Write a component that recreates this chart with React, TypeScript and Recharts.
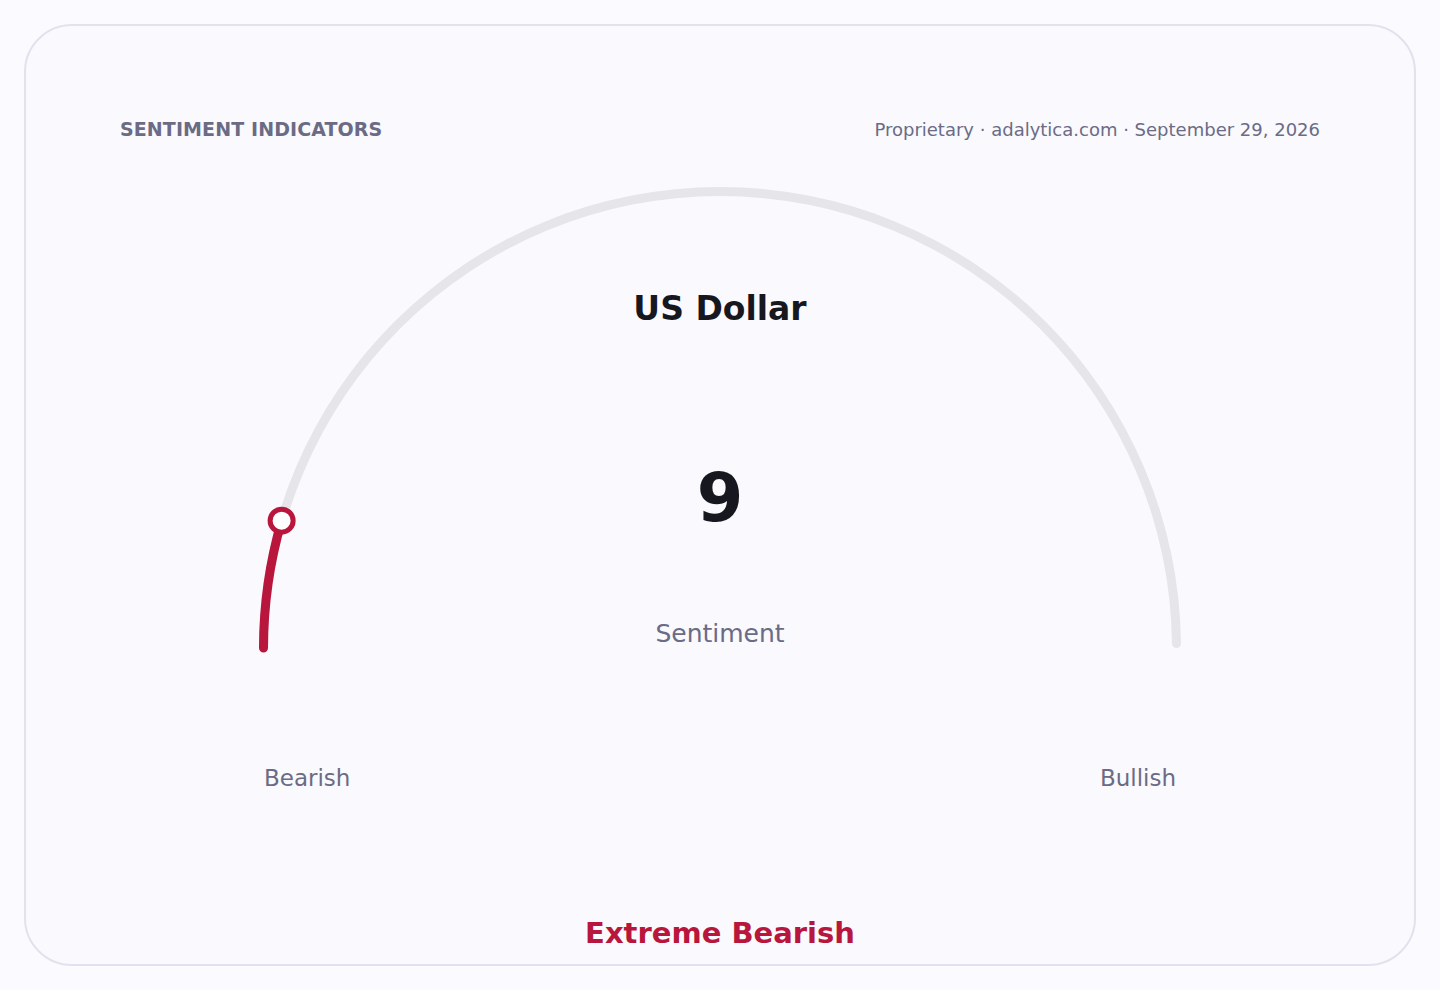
import React from 'react';
import { RadialBarChart, RadialBar, PolarAngleAxis } from 'recharts';

const asset = 'US Dollar';
const sentimentValue = [{ name: 'Sentiment', value: 9 }];
const scaleDomain = [0, 100];
const scaleLabels = ['Bearish', 'Bullish'];
const verdict = 'Extreme Bearish';
const source = 'Proprietary · adalytica.com · September 29, 2026';

const RED = '#b8163c';
const TRACK = '#e5e5ea';
const MUTED = '#6b6b85';
const FONT = '"DejaVu Sans", Verdana, sans-serif';

const RAD = Math.PI / 180;
const polar = (cx: number, cy: number, r: number, deg: number) => ({
    x: cx + r * Math.cos(-deg * RAD),
    y: cy + r * Math.sin(-deg * RAD),
});

function arcPath(cx: number, cy: number, r: number, start: number, end: number) {
    const a = polar(cx, cy, r, start);
    const b = polar(cx, cy, r, end);
    const large = Math.abs(start - end) > 180 ? 1 : 0;
    return `M ${a.x} ${a.y} A ${r} ${r} 0 ${large} 1 ${b.x} ${b.y}`;
}

// value arc with round caps + hollow knob at the tip
const ValueShape = (props: any) => {
    const { cx, cy, innerRadius, outerRadius, startAngle, endAngle } = props;
    const r = (innerRadius + outerRadius) / 2;
    const tip = polar(cx, cy, r, endAngle);
    return (
        <g>
            <path d={arcPath(cx, cy, r, startAngle, endAngle)} fill="none" stroke={RED}
                strokeWidth={outerRadius - innerRadius} strokeLinecap="round" />
            <circle cx={tip.x} cy={tip.y} r={11.5} fill="#ffffff" stroke={RED} strokeWidth={5} />
        </g>
    );
};

const abs = (style: React.CSSProperties): React.CSSProperties => ({ position: 'absolute', fontFamily: FONT, whiteSpace: 'nowrap', ...style });

export default function App() {
    return (
        <div style={{ position: 'absolute', left: 0, top: 0, width: 1440, height: 990, background: '#fafaff', overflow: 'hidden' }}>
            <div style={{ position: 'absolute', left: 24, top: 24, width: 1388, height: 938, border: '2px solid #e2e2ee', borderRadius: 48, background: '#f9f9fe' }} />

            <div style={{ position: 'absolute', left: 0, top: 0 }}>
                <RadialBarChart width={1440} height={990} cx={720} cy={648} innerRadius={451} outerRadius={461}
                    barSize={10} startAngle={180} endAngle={0} data={sentimentValue} margin={{ top: 0, right: 0, bottom: 0, left: 0 }}>
                    <PolarAngleAxis type="number" domain={scaleDomain} tick={false} axisLine={false} />
                    <RadialBar dataKey="value" isAnimationActive={false} cornerRadius={5}
                        background={{ fill: TRACK, cornerRadius: 5 }} shape={ValueShape} />
                </RadialBarChart>
            </div>

            <div style={abs({ left: 120, top: 118, fontSize: 19, fontWeight: 700, color: MUTED, letterSpacing: 0.1 })}>SENTIMENT INDICATORS</div>
            <div style={abs({ right: 120, top: 119, fontSize: 18, color: MUTED })}>{source}</div>

            <div style={abs({ left: 0, width: 1440, textAlign: 'center', top: 289, fontSize: 33, fontWeight: 700, color: '#17171f' })}>{asset}</div>
            <div style={abs({ left: 0, width: 1440, textAlign: 'center', top: 459, fontSize: 67, fontWeight: 700, color: '#17171f' })}>{sentimentValue[0].value}</div>
            <div style={abs({ left: 0, width: 1440, textAlign: 'center', top: 619, fontSize: 25, color: MUTED })}>{sentimentValue[0].name}</div>

            <div style={abs({ left: 264, top: 765, fontSize: 23, color: MUTED })}>{scaleLabels[0]}</div>
            <div style={abs({ right: 264, top: 765, fontSize: 23, color: MUTED })}>{scaleLabels[1]}</div>

            <div style={abs({ left: 0, width: 1440, textAlign: 'center', top: 916, fontSize: 29, fontWeight: 700, color: RED })}>{verdict}</div>
        </div>
    );
}
